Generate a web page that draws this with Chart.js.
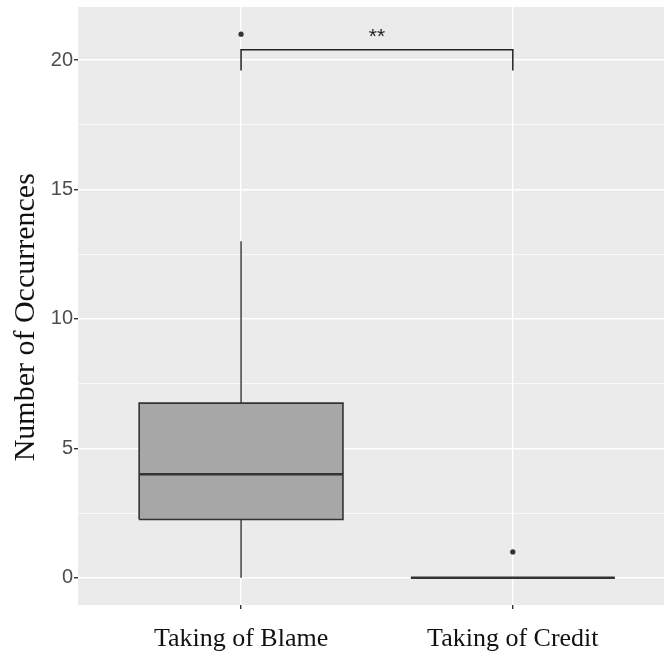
<!DOCTYPE html>
<html>
<head>
<meta charset="utf-8">
<script src="https://cdn.jsdelivr.net/npm/chart.js@4.4.0/dist/chart.umd.min.js"></script>
<style>
  html, body { margin: 0; padding: 0; background: #fff; overflow: hidden; }
  canvas { display: block; }
</style>
</head>
<body>
<canvas id="grafico_caja" width="669" height="658"></canvas>
<script>
// datos
const categories = ['Taking of Blame', 'Taking of Credit'];
const lowerWhisker = [0, 0];
const q1 = [2.25, 0];
const median = [4, 0];
const q3 = [6.75, 0];
const upperWhisker = [13, 0];
const outliers = [[21], [1]];
const yTicks = [0, 2.5, 5, 7.5, 10, 12.5, 15, 17.5, 20];
const sigBracket = { from: 1, to: 2, top: 20.4, bottom: 19.6, label: '**', labelY: 21.0 };

const half = 0.375;
const edge = '#333333';
const datasets = [];

categories.forEach(function (cat, i) {
    const x = i + 1;
    // caja
    datasets.push({
        data: [
            { x: x - half, y: q1[i] }, { x: x + half, y: q1[i] },
            { x: x + half, y: q3[i] }, { x: x - half, y: q3[i] },
            { x: x - half, y: q1[i] }
        ],
        showLine: true, fill: 'shape', backgroundColor: '#a7a7a7',
        borderColor: edge, borderWidth: 1.6, pointRadius: 0, order: 5
    });
    // bigotes
    datasets.push({
        data: [{ x: x, y: q3[i] }, { x: x, y: upperWhisker[i] }],
        showLine: true, borderColor: edge, borderWidth: 1.4, pointRadius: 0, order: 4
    });
    datasets.push({
        data: [{ x: x, y: q1[i] }, { x: x, y: lowerWhisker[i] }],
        showLine: true, borderColor: edge, borderWidth: 1.4, pointRadius: 0, order: 4
    });
    // mediana
    datasets.push({
        data: [{ x: x - half, y: median[i] }, { x: x + half, y: median[i] }],
        showLine: true, borderColor: edge, borderWidth: 2.6, pointRadius: 0, order: 1
    });
    // atipicos
    datasets.push({
        data: outliers[i].map(function (v) { return { x: x, y: v }; }),
        showLine: false, pointRadius: 2.6, pointBackgroundColor: edge,
        pointBorderWidth: 0, order: 0
    });
});

// corchete de significancia
datasets.push({
    data: [
        { x: sigBracket.from, y: sigBracket.bottom }, { x: sigBracket.from, y: sigBracket.top },
        { x: sigBracket.to, y: sigBracket.top }, { x: sigBracket.to, y: sigBracket.bottom }
    ],
    showLine: true, borderColor: '#222', borderWidth: 1.5, pointRadius: 0, order: 0
});

const fondoPanel = {
    id: 'fondoPanel',
    beforeDraw: function (chart) {
        const a = chart.chartArea;
        const c = chart.ctx;
        c.save();
        c.fillStyle = '#ebebeb';
        c.fillRect(a.left, a.top, a.right - a.left, a.bottom - a.top);
        c.restore();
    }
};

const etiquetaSig = {
    id: 'etiquetaSig',
    afterDatasetsDraw: function (chart) {
        const c = chart.ctx;
        const px = chart.scales.x.getPixelForValue((sigBracket.from + sigBracket.to) / 2);
        const py = chart.scales.y.getPixelForValue(sigBracket.labelY);
        c.save();
        c.fillStyle = '#222';
        c.font = '21px "Liberation Sans", Arial, sans-serif';
        c.textAlign = 'center';
        c.textBaseline = 'middle';
        c.fillText(sigBracket.label, px, py + 3);
        c.restore();
    }
};

const ctx = document.getElementById('grafico_caja');
new Chart(ctx, {
    type: 'scatter',
    data: { datasets: datasets },
    plugins: [fondoPanel, etiquetaSig],
    options: {
        responsive: false,
        animation: false,
        layout: { padding: { top: 7, right: 0, left: 0, bottom: 0 } },
        plugins: { legend: { display: false }, tooltip: { enabled: false } },
        scales: {
            x: {
                type: 'linear', min: 0.4, max: 2.56,
                afterBuildTicks: function (s) { s.ticks = categories.map(function (c, i) { return { value: i + 1 }; }); },
                afterFit: function (s) { s.height = 53; s.paddingLeft = 0; s.paddingRight = 0; },
                border: { display: false },
                grid: { color: '#ffffff', lineWidth: 1.4, tickColor: '#333', tickLength: 4 },
                ticks: {
                    padding: 15, color: '#111',
                    font: { family: '"Liberation Serif", "Times New Roman", serif', size: 26 },
                    callback: function (v) { return categories[Math.round(v) - 1]; }
                }
            },
            y: {
                min: -1.05, max: 22.05,
                afterBuildTicks: function (s) { s.ticks = yTicks.map(function (v) { return { value: v }; }); },
                afterFit: function (s) { s.width = 78; s.paddingTop = 0; s.paddingBottom = 0; },
                border: { display: false },
                grid: {
                    color: '#ffffff',
                    lineWidth: function (c) { return c.tick && c.tick.value % 5 === 0 ? 1.4 : 0.7; },
                    tickColor: function (c) { return c.tick && c.tick.value % 5 === 0 ? '#333' : 'rgba(0,0,0,0)'; },
                    tickLength: 4
                },
                ticks: {
                    padding: 1, color: '#4d4d4d',
                    font: { family: '"Liberation Sans", Arial, sans-serif', size: 20 },
                    callback: function (v) { return v % 5 === 0 ? v : ''; }
                },
                title: {
                    display: true, text: 'Number of Occurrences   ', color: '#111',
                    font: { family: '"Liberation Serif", "Times New Roman", serif', size: 30 },
                    padding: { top: 8, bottom: 0 }
                }
            }
        }
    }
});
</script>
</body>
</html>
